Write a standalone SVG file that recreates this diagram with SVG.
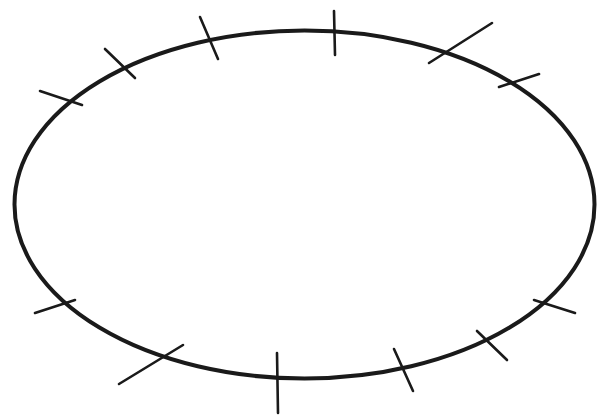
<svg xmlns="http://www.w3.org/2000/svg" width="599" height="415" viewBox="0 0 599 415">
<style>
.ring{fill:none;stroke:#1a1a1a;stroke-width:4}
.tick{stroke:#1a1a1a;stroke-width:2.6;stroke-linecap:round}
</style>
<rect width="599" height="415" fill="#fff"/>
<g id="ellipse">
<ellipse class="ring" cx="304.5" cy="204.5" rx="290" ry="174"/>
</g>
<g id="ticks">
<line class="tick" x1="40" y1="91" x2="82" y2="105"/>
<line class="tick" x1="105" y1="49" x2="135" y2="78"/>
<line class="tick" x1="200" y1="17" x2="218" y2="59"/>
<line class="tick" x1="334" y1="11" x2="335" y2="55"/>
<line class="tick" x1="429" y1="63" x2="492" y2="23"/>
<line class="tick" x1="499" y1="87" x2="539" y2="74"/>
<line class="tick" x1="35" y1="313" x2="75" y2="300"/>
<line class="tick" x1="119" y1="384" x2="183" y2="345"/>
<line class="tick" x1="277" y1="353" x2="278" y2="413"/>
<line class="tick" x1="394" y1="349" x2="413" y2="391"/>
<line class="tick" x1="477" y1="331" x2="507" y2="360"/>
<line class="tick" x1="534" y1="300" x2="575" y2="313"/>
</g>
</svg>
